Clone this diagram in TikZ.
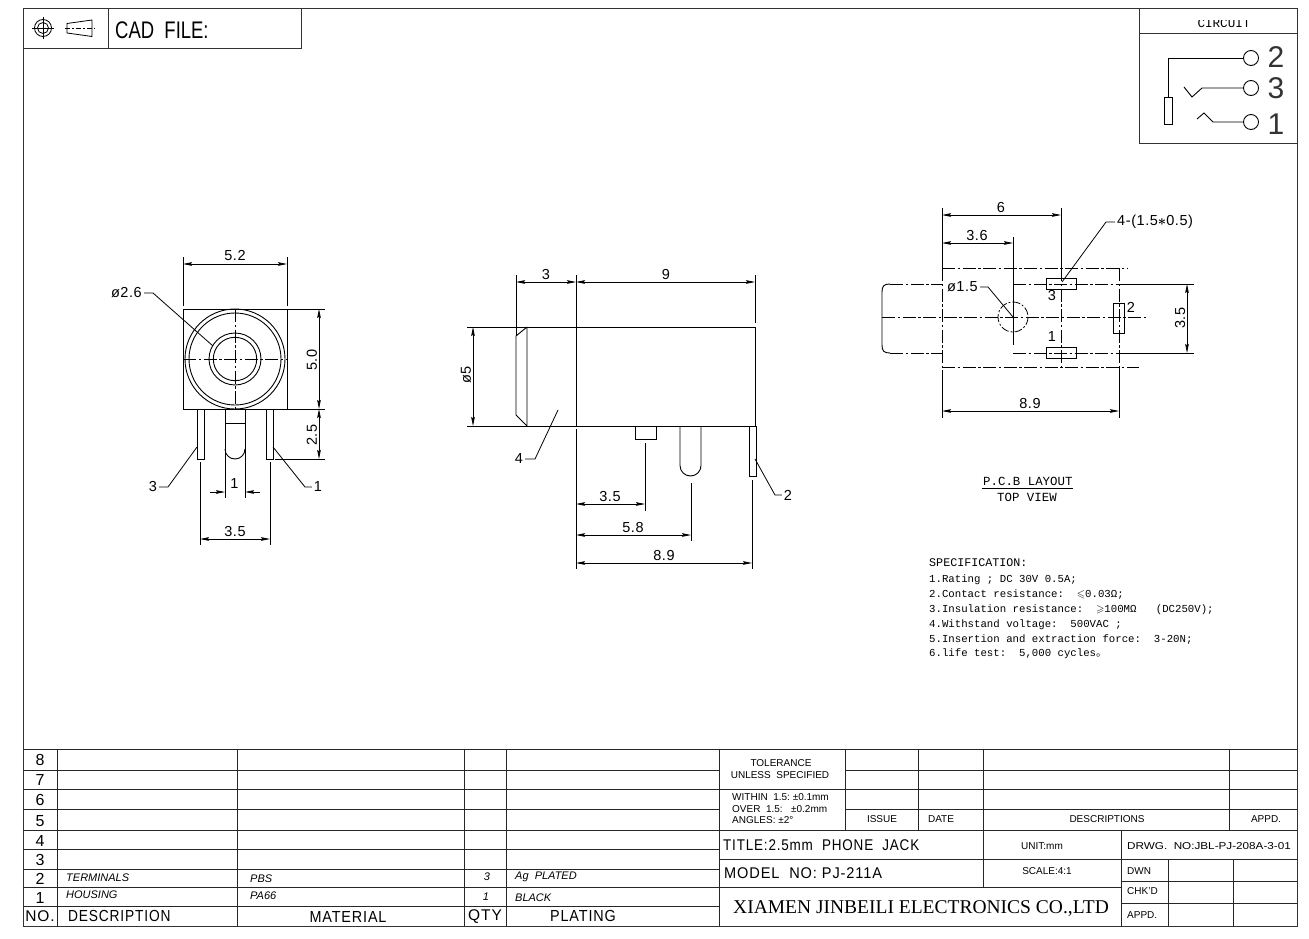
\documentclass[tikz,border=0pt]{standalone}
\usepackage{amssymb}
\usepackage{fontspec}
\setmainfont{Liberation Sans}
\setmonofont{Liberation Mono}
\newfontfamily\cadfont[LetterSpace=4]{Liberation Sans}
\newfontfamily\headfont[LetterSpace=6]{Liberation Sans}
\newfontfamily\cadtitle{Liberation Serif}
\newfontfamily\cjkfont{Noto Sans CJK SC}
\usetikzlibrary{arrows.meta}
\tikzset{
	x=1pt,y=-1pt,
	>={Stealth[length=9pt,width=3.6pt,inset=1.2pt]},
	outline/.style={draw=black,line width=0.9pt},
	frameline/.style={draw=black!80,line width=1pt},
	tableline/.style={draw=black!85,line width=1pt},
	extline/.style={draw=black,line width=0.8pt},
	dimline/.style={<->,draw=black,line width=0.8pt},
	inarrow/.style={->,draw=black,line width=0.8pt},
	leader/.style={draw=black,line width=0.8pt,shorten <=2pt},
	centerline/.style={draw=black,line width=0.8pt,dash pattern=on 13pt off 2.5pt on 2.5pt off 2.5pt},
	dimtext/.style={inner sep=0pt,font=\cadfont\fontsize{14.5}{15}\selectfont},
	bigdigit/.style={inner sep=0pt,text=black!80,font=\fontsize{30}{30}\selectfont},
	monotext/.style={inner sep=0pt,anchor=west,font=\ttfamily\fontsize{10.7}{11}\selectfont},
	monohead/.style={inner sep=0pt,anchor=west,font=\ttfamily\fontsize{12.4}{13}\selectfont},
	rowtext/.style={inner sep=0pt,font=\headfont\fontsize{16}{16}\selectfont},
	headtext/.style={inner sep=0pt,font=\headfont\fontsize{16}{16}\selectfont},
	itemtext/.style={inner sep=0pt,anchor=west,font=\itshape\fontsize{11}{11}\selectfont},
	smalltext/.style={inner sep=0pt,font=\fontsize{10}{10}\selectfont},
	titletext/.style={inner sep=0pt,anchor=west,font=\headfont\fontsize{15.5}{16}\selectfont},
	terminal/.style={circle,draw=black,line width=0.9pt,minimum size=15pt,inner sep=0pt}
}
\begin{document}
\begin{tikzpicture}
	\fill[white] (0,0) rectangle (1309,939);
	\useasboundingbox (0,0) rectangle (1309,939);

	% frame
	\draw[frameline] (23,926) -- (23,9) -- (1297,9) -- (1297,926) -- cycle;

	% cad box
	\draw[frameline] (23,49) -- (301,49) -- (301,9);
	\draw[frameline] (108,9) -- (108,49);
	\draw[extline] (43,28) circle (8.5) (43,28) circle (5.5);
	\draw[extline,line width=0.5pt] (32,28) -- (54,28) (43,17) -- (43,39);
	\draw[extline] (67,23.5) -- (92,20) -- (92,36.5) -- (67,33) -- cycle;
	\draw[extline,line width=0.5pt,dash pattern=on 5pt off 2pt on 2pt off 2pt] (65,28) -- (95,28);
	\node[inner sep=0pt,anchor=west,font=\fontsize{24}{24}\selectfont] (cadFile) at (115,30) {\scalebox{.77}[1]{CAD\ \ FILE:}};

	% circuit box
	\draw[frameline] (1139,9) -- (1139,144) -- (1297,144);
	\draw[frameline] (1139,34) -- (1297,34);
	\begin{scope}
		\clip (1139,20.5) rectangle (1297,34);
		\node[inner sep=0pt,font=\ttfamily\fontsize{12.6}{13}\selectfont] (circuitTitle) at (1224,23) {CIRCUIT};
	\end{scope}
	\node[terminal] (termB) at (1251,58) {};
	\node[terminal] (termC) at (1251,88) {};
	\node[terminal] (termA) at (1251,122) {};
	\node[outline,rectangle,inner sep=0pt,minimum width=8pt,minimum height=27pt] (plugBody) at (1168,110.5) {};
	\draw[outline] (termB.west) -- (1168,58) -- (plugBody.north);
	\draw[outline] (termC.west) -- (1202,88) -- (1192,97) -- (1184,87);
	\draw[outline] (termA.west) -- (1213,122) -- (1204,113) -- (1197,119);
	\node[bigdigit] (digitB) at (1276,57) {2};
	\node[bigdigit] (digitC) at (1276,88) {3};
	\node[bigdigit] (digitA) at (1276,124) {1};

	% front view
	\draw[outline] (183,309) rectangle (287,409);
	\draw[outline] (235,359) circle (50) (235,359) circle (46);
	\draw[outline] (235,359) circle (26) (235,359) circle (21.7);
	\draw[centerline] (183,359) -- (287,359);
	\draw[centerline] (235,309) -- (235,409);
	\draw[outline] (197,409) rectangle (204,459);
	\draw[outline] (266,409) rectangle (273,459);
	\draw[outline] (225,423) -- (245,423);
	\draw[outline] (225,449) arc[start angle=180,end angle=0,radius=10];
	\draw[extline] (225,409) -- (225,498);
	\draw[extline] (245,409) -- (245,498);
	\draw[extline] (183,306) -- (183,257);
	\draw[extline] (287,306) -- (287,257);
	\draw[dimline] (183,264) -- (287,264);
	\node[dimtext] (dimWidth) at (235,256) {5.2};
	\draw[extline] (287,309) -- (325,309);
	\draw[extline] (287,409) -- (325,409);
	\draw[extline] (275,459) -- (325,459);
	\draw[dimline] (319,309) -- (319,409);
	\draw[dimline] (319,409) -- (319,459);
	\node[dimtext,rotate=90] (dimHeight) at (312,360) {5.0};
	\node[dimtext,rotate=90] (dimPin) at (312,435) {2.5};
	\draw[inarrow] (210,492) -- (225,492);
	\draw[inarrow] (260,492) -- (245,492);
	\node[dimtext] (dimPinWidth) at (234.5,484) {1};
	\draw[extline] (200,462) -- (200,545);
	\draw[extline] (270,462) -- (270,545);
	\draw[dimline] (200,539) -- (270,539);
	\node[dimtext] (dimPitch) at (235,532) {3.5};
	\node[dimtext,anchor=east] (lblBore) at (142,293) {ø2.6};
	\draw[leader] (lblBore.east) -- (153,293) -- (213,346);
	\node[dimtext] (lblPinC) at (153,487) {3};
	\draw[leader] (lblPinC.east) -- (168,487) -- (197,447);
	\node[dimtext] (lblPinA) at (318,487) {1};
	\draw[leader] (lblPinA.west) -- (305,487) -- (273,447);

	% side view
	\draw[outline] (467,327) -- (755,327) -- (755,426);
	\draw[outline] (467,426) -- (755,426);
	\draw[outline] (576,275) -- (576,426);
	\draw[extline] (576,429) -- (576,569);
	\draw[outline] (527,327) -- (527,426) -- (516,415) -- (516,336) -- (527,327);
	\draw[extline] (516,275) -- (516,336);
	\draw[extline] (755,275) -- (755,323);
	\draw[dimline] (516,282) -- (576,282);
	\draw[dimline] (576,282) -- (755,282);
	\node[dimtext] (dimNose) at (546,275) {3};
	\node[dimtext] (dimBody) at (666,275) {9};
	\draw[dimline] (473,327) -- (473,426);
	\node[dimtext,rotate=90] (dimDia) at (466,375) {ø5};
	\draw[outline] (635,426) rectangle (656,439);
	\draw[outline] (680,426) -- (680,465.5) arc[start angle=180,end angle=0,radius=10.5] -- (701,426);
	\draw[outline] (749,426) rectangle (756,476);
	\draw[extline] (645,443) -- (645,511);
	\draw[extline] (691,483) -- (691,541);
	\draw[extline] (752,480) -- (752,569);
	\draw[dimline] (576,504) -- (645,504);
	\draw[dimline] (576,535) -- (691,535);
	\draw[dimline] (576,563) -- (752,563);
	\node[dimtext] (dimTab) at (610,497) {3.5};
	\node[dimtext] (dimRound) at (633,528) {5.8};
	\node[dimtext] (dimFlat) at (664,556) {8.9};
	\node[dimtext] (lblPinB) at (788,495) {2};
	\draw[leader] (lblPinB.west) -- (775,495) -- (755,459);
	\node[dimtext] (lblBody) at (519,459) {4};
	\draw[leader] (lblBody.east) -- (535,459) -- (558,410);

	% pcb layout
	\draw[centerline] (942,268) -- (1128,268);
	\draw[centerline] (942,367) -- (1139,367);
	\draw[centerline] (942,268) -- (942,367);
	\draw[centerline] (1119,268) -- (1119,367);
	\draw[centerline] (890,284) -- (942,284);
	\draw[centerline] (890,353) -- (942,353);
	\draw[outline] (890,284) .. controls (884,284) and (882,286) .. (882,292) -- (882,345) .. controls (882,351) and (884,353) .. (890,353);
	\draw[centerline] (882,317) -- (1148,317);
	\draw[centerline] (1013,284) -- (1125,284);
	\draw[centerline] (1013,353) -- (1125,353);
	\draw[extline] (1125,284) -- (1194,284);
	\draw[extline] (1125,353) -- (1194,353);
	\draw[centerline,dash pattern=on 8pt off 2pt on 2pt off 2pt] (1013,317) circle (15);
	\draw[extline] (1013,237) -- (1013,345);
	\draw[extline] (1061,208) -- (1061,268);
	\draw[centerline] (1061,268) -- (1061,367);
	\draw[extline] (942,208) -- (942,268);
	\draw[extline] (942,370) -- (942,418);
	\draw[extline] (1119,367) -- (1119,418);
	\draw[dimline] (942,215) -- (1061,215);
	\draw[dimline] (942,243) -- (1013,243);
	\draw[dimline] (942,411) -- (1119,411);
	\draw[dimline] (1187,284) -- (1187,353);
	\node[dimtext] (dimSix) at (1001,208) {6};
	\node[dimtext] (dimHole) at (977,236) {3.6};
	\node[dimtext] (dimLength) at (1030,404) {8.9};
	\node[dimtext,rotate=90] (dimSpan) at (1180,318) {3.5};
	\draw[outline] (1046,278) rectangle (1076,289);
	\draw[outline] (1046,347) rectangle (1076,358);
	\draw[outline] (1113,303) rectangle (1124,333);
	\node[dimtext] (padC) at (1052,296) {3};
	\node[dimtext] (padA) at (1052,337) {1};
	\node[dimtext] (padB) at (1131,307) {2};
	\node[dimtext,anchor=west] (lblPads) at (1117,222) {4-(1.5{\boldmath$\ast$}0.5)};
	\draw[leader] (lblPads.west) -- (1106,222) -- (1062,282);
	\node[dimtext,anchor=east] (lblHole) at (978,287) {ø1.5};
	\draw[leader] (lblHole.east) -- (988,287) -- (1013,317);

	% notes
	\node[monohead] (pcbTitle) at (983,481) {P.C.B LAYOUT};
	\draw[outline] (982,488) -- (1073,488);
	\node[monohead] (pcbView) at (997,497) {TOP VIEW};
	\node[monotext,font=\ttfamily\fontsize{11.7}{12}\selectfont] (specHead) at (929,563) {SPECIFICATION:};
	\node[monotext] (specA) at (929,580) {1.Rating ; DC 30V 0.5A;};
	\node[monotext] (specB) at (929,595) {2.Contact resistance:~~$\leqslant$0.03Ω;};
	\node[monotext] (specC) at (929,610) {3.Insulation resistance:~~$\geqslant$100MΩ~~~(DC250V);};
	\node[monotext] (specD) at (929,625) {4.Withstand voltage:~~500VAC ;};
	\node[monotext] (specE) at (929,640) {5.Insertion and extraction force:~~3-20N;};
	\node[monotext] (specF) at (929,654) {6.life test:~~5,000 cycles{\cjkfont 。}};

	% parts table
	\foreach \ypos in {749,770,789,809,830,849,869,887,906} {
		\draw[tableline] (23,\ypos) -- (719,\ypos);
	}
	\foreach \xpos in {57,237,464,506} {
		\draw[tableline] (\xpos,749) -- (\xpos,926);
	}
	\foreach \num/\ypos in {8/760,7/780,6/800,5/821,4/841,3/860,2/879,1/898} {
		\node[rowtext] (row\num) at (40,\ypos) {\num};
	}
	\node[headtext,font=\headfont\fontsize{15.5}{16}\selectfont] (headNo) at (40,916) {NO.};
	\node[headtext,anchor=west] (headDesc) at (68,916) {\scalebox{.86}[1]{DESCRIPTION}};
	\node[headtext] (headMat) at (348,917) {\scalebox{.9}[1]{MATERIAL}};
	\node[headtext,font=\headfont\fontsize{15.5}{16}\selectfont] (headQty) at (485,917) {QTY};
	\node[headtext] (headPlate) at (583,916) {\scalebox{.9}[1]{PLATING}};
	\node[itemtext] (itemTerm) at (66,878) {TERMINALS};
	\node[itemtext] (itemHouse) at (66,895) {HOUSING};
	\node[itemtext] (matTerm) at (250,879) {PBS};
	\node[itemtext] (matHouse) at (250,896) {PA66};
	\node[itemtext,anchor=center] (qtyTerm) at (487,877) {3};
	\node[itemtext,anchor=center] (qtyHouse) at (486,897) {1};
	\node[itemtext] (plateTerm) at (515,877) {Ag\ \ PLATED};
	\node[itemtext] (plateHouse) at (515,898) {BLACK};

	% title block
	\draw[tableline] (719,749) -- (719,926);
	\draw[tableline] (845,749) -- (845,830);
	\draw[tableline] (918,749) -- (918,830);
	\draw[tableline] (983,749) -- (983,887);
	\draw[tableline] (1229,749) -- (1229,830);
	\draw[tableline] (719,749) -- (1297,749);
	\draw[tableline] (845,770) -- (1297,770);
	\draw[tableline] (719,789) -- (1297,789);
	\draw[tableline] (845,809) -- (1297,809);
	\draw[tableline] (719,830) -- (1297,830);
	\draw[tableline] (719,859) -- (1297,859);
	\draw[tableline] (719,887) -- (1121,887);
	\draw[tableline] (1121,830) -- (1121,926);
	\draw[tableline] (1121,881) -- (1297,881);
	\draw[tableline] (1121,903) -- (1297,903);
	\draw[tableline] (1168,859) -- (1168,926);
	\draw[tableline] (1233,859) -- (1233,926);
	\node[smalltext] (tolA) at (781,763) {TOLERANCE};
	\node[smalltext] (tolB) at (780,775) {UNLESS\ \ SPECIFIED};
	\node[smalltext,anchor=west] (tolC) at (732,797) {WITHIN\ \ 1.5:\ ±0.1mm};
	\node[smalltext,anchor=west] (tolD) at (732,809) {OVER\ \ 1.5:\ \ \ ±0.2mm};
	\node[smalltext,anchor=west] (tolE) at (732,820) {ANGLES:\ ±2°};
	\node[smalltext] (revIssue) at (882,819) {ISSUE};
	\node[smalltext] (revDate) at (941,819) {DATE};
	\node[smalltext] (revDesc) at (1107,819) {DESCRIPTIONS};
	\node[smalltext] (revAppd) at (1266,819) {APPD.};
	\node[titletext] (titleName) at (723,845) {\scalebox{.87}[1]{TITLE:2.5mm\ \ PHONE\ \ JACK}};
	\node[titletext] (titleModel) at (724,873) {\scalebox{.94}[1]{MODEL\ \ NO: PJ-211A}};
	\node[inner sep=0pt,anchor=west,font=\cadtitle\fontsize{19.5}{20}\selectfont] (titleCompany) at (733,909) {XIAMEN JINBEILI ELECTRONICS CO.,LTD};
	\node[smalltext] (unitMark) at (1042,846) {UNIT:mm};
	\node[smalltext] (scaleMark) at (1047,871) {SCALE:4:1};
	\node[smalltext,anchor=west] (drwgNo) at (1127,846) {\scalebox{1.17}[1]{DRWG.\ \ NO:JBL-PJ-208A-3-01}};
	\node[smalltext,anchor=west] (signDwn) at (1127,871) {DWN};
	\node[smalltext,anchor=west] (signChk) at (1127,891) {CHK'D};
	\node[smalltext,anchor=west] (signAppd) at (1127,915) {APPD.};
\end{tikzpicture}
\end{document}
